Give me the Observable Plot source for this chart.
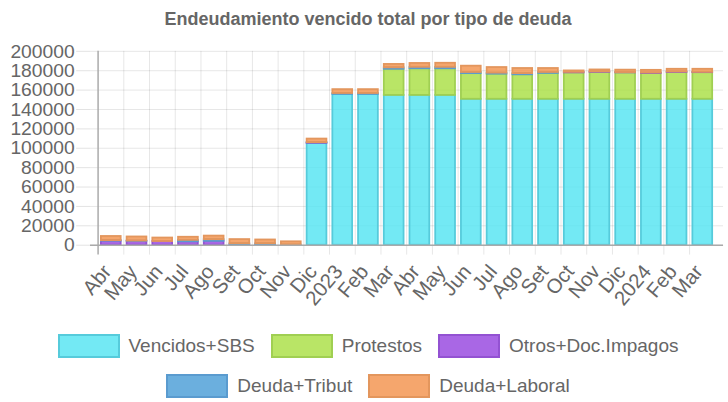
<!DOCTYPE html>
<html>
<head>
<meta charset="utf-8">
<script src="https://cdn.jsdelivr.net/npm/d3@7"></script>
<script src="https://cdn.jsdelivr.net/npm/@observablehq/plot@0.6"></script>
<style>
html,body{margin:0;padding:0;background:#fff;width:728px;height:402px;overflow:hidden;font-family:"Liberation Sans",Arial,sans-serif;}
#title{position:absolute;left:0;top:10px;width:736px;text-align:center;font-weight:bold;font-size:18px;line-height:18px;color:#666;}
#chart{position:absolute;left:0;top:36px;}
.legend-row{position:absolute;left:0;width:736px;display:flex;justify-content:center;align-items:center;font-size:19px;color:#666;}
.item{display:flex;align-items:center;margin:0 8px;}
.sw{width:58px;height:20px;border:2px solid;margin-right:9px;box-sizing:content-box;}
</style>
</head>
<body>
<div id="title">Endeudamiento vencido total por tipo de deuda</div>
<div id="chart"></div>
<div class="legend-row" id="leg1" style="top:334px;height:24px"></div>
<div class="legend-row" id="leg2" style="top:374px;height:24px"></div>
<script>
const labels = ["Abr","May","Jun","Jul","Ago","Set","Oct","Nov","Dic","2023","Feb","Mar","Abr","May","Jun","Jul","Ago","Set","Oct","Nov","Dic","2024","Feb","Mar"];
const series = ["Vencidos+SBS","Protestos","Otros+Doc.Impagos","Deuda+Tribut","Deuda+Laboral"];
const vencidos = [0,0,0,0,0,0,0,0,105000,155500,155500,154500,154500,154500,150500,150500,150500,150500,150500,150500,150500,150500,150500,150500];
const protestos = [0,0,0,0,0,0,0,0,0,0,0,27000,27500,27500,26500,26000,25300,26700,27300,27800,27300,26700,27700,27500];
const otros = [4200,4000,3800,3500,4000,500,300,0,500,0,0,0,0,0,0,0,0,0,500,500,300,500,500,300];
const tribut = [500,300,0,1500,1700,1000,1200,200,300,1000,1000,1500,1500,1500,1200,1000,1200,1000,0,0,0,0,0,0];
const laboral = [4300,4200,3600,3200,3700,4300,3900,3300,3700,4000,4000,3500,4000,4200,6500,5800,5300,4100,1500,2000,2500,2700,2800,3200];
const yTicks = [0,20000,40000,60000,80000,100000,120000,140000,160000,180000,200000];

const fillBase = ["rgb(80,228,241)","rgb(168,222,64)","rgb(148,65,222)","rgb(70,155,214)","rgb(242,144,73)"];
const legendFill = ["#73e9f4","#b9e566","#a967e5","#6bafde","#f5a66d"];
const strokes = ["#56cbdb","#a0cf52","#9352d2","#5a9bcf","#e3965d"];
const valuesBySeries = [vencidos, protestos, otros, tribut, laboral];

const rows = [];
series.forEach((s, k) => valuesBySeries[k].forEach((v, i) => rows.push({i, serie: s, k, value: v})));

const W = 736, ML = 91, MR = 5, n = labels.length;
const step = (W - ML - MR) / n;

const chart = Plot.plot({
  width: W, height: 280,
  marginLeft: ML, marginRight: MR, marginTop: 15, marginBottom: 69,
  style: {fontFamily: "'Liberation Sans', Arial, sans-serif", fontSize: "19px", color: "#666", background: "transparent", overflow: "visible"},
  x: {domain: d3.range(n), paddingInner: 0.25, paddingOuter: 0.125, axis: null, label: null},
  y: {domain: [0, 200000], axis: null, label: null},
  marks: [
    Plot.gridY(yTicks, {stroke: "#000", strokeOpacity: 0.1}),
    Plot.ruleX(d3.range(1, n), {x: d => d, dx: -step / 2, stroke: "#000", strokeOpacity: 0.1, insetBottom: -10}),
    Plot.barY(rows, {x: "i", y: "value", fill: d => fillBase[d.k], fillOpacity: 0.8, stroke: d => strokes[d.k], strokeWidth: 1.8}),
    Plot.axisY(yTicks, {label: null, tickSize: 14, tickPadding: 2, tickFormat: d => String(d), stroke: "#e3e3e3", fill: "#666", fontSize: 19.5}),
    Plot.axisX(d3.range(n), {label: null, tickSize: 0, tickPadding: 23, dx: -4, tickRotate: -50, tickFormat: i => labels[i], fill: "#666", fontSize: 20.5}),
    Plot.ruleY([0], {stroke: "#aaa", strokeWidth: 1.5}),
    Plot.ruleX([0], {x: d => d, dx: -step / 2, stroke: "#aaa", strokeWidth: 1.5, insetBottom: -10})
  ]
});
document.getElementById("chart").appendChild(chart);

function addItems(el, idxs) {
  idxs.forEach(k => {
    const it = document.createElement("div");
    it.className = "item";
    const sw = document.createElement("div");
    sw.className = "sw";
    sw.style.background = legendFill[k];
    sw.style.borderColor = strokes[k];
    const tx = document.createElement("span");
    tx.textContent = series[k];
    it.appendChild(sw); it.appendChild(tx);
    el.appendChild(it);
  });
}
addItems(document.getElementById("leg1"), [0, 1, 2]);
addItems(document.getElementById("leg2"), [3, 4]);
</script>
</body>
</html>
